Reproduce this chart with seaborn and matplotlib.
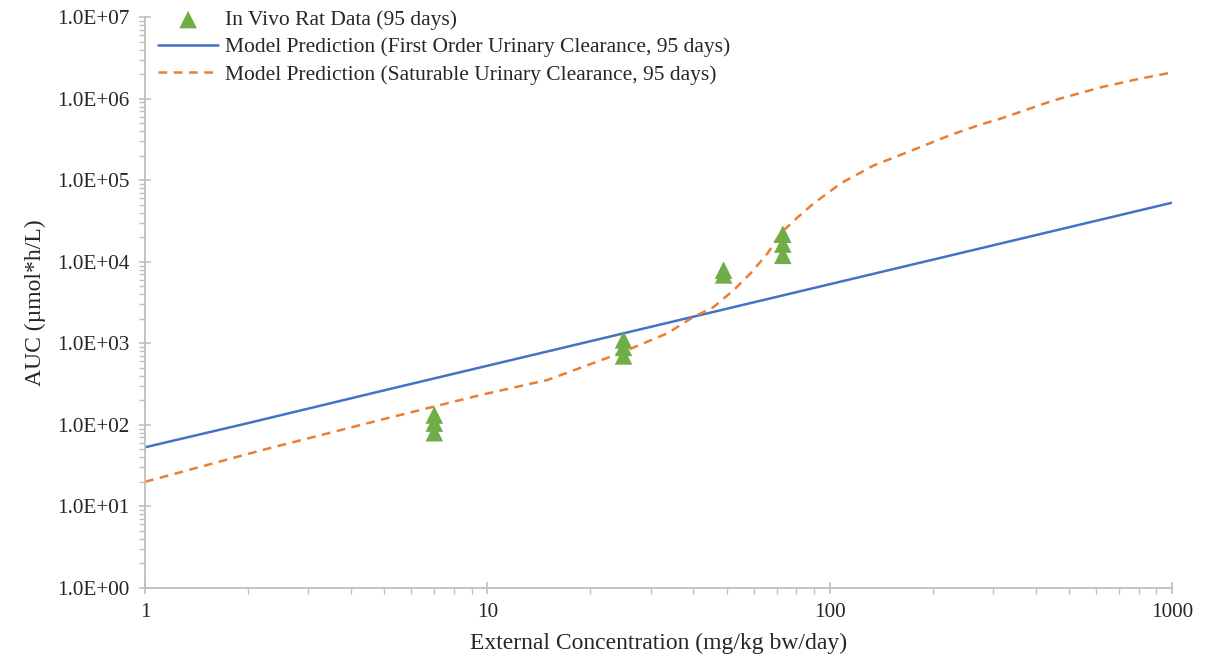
import numpy as np
import pandas as pd
import matplotlib
matplotlib.use('Agg')
import matplotlib.pyplot as plt
import matplotlib.ticker as mticker
import seaborn as sns

# In vivo rat data (95 days)
rat_x = [7, 7, 7, 25, 25, 25, 49, 49, 73, 73, 73]
rat_y = [132, 105, 80, 1100, 890, 700, 7900, 6900, 21800, 16500, 12000]

# Model prediction, first order urinary clearance
first_x = [1, 2, 5, 10, 20, 50, 100, 200, 500, 1000]
first_y = [53, 105, 265, 530, 1060, 2650, 5300, 10600, 26500, 53000]

# Model prediction, saturable urinary clearance
sat_x = [1, 2.2, 5, 9.55, 15, 24.5, 33.6, 40, 45.8, 52.4, 58.8, 65.9, 71.9,
         80.6, 89.8, 108, 134.5, 173, 226, 275, 316, 450, 620, 800, 1000]
sat_y = [20, 49, 118, 232, 355, 760, 1330, 2100, 2780, 4480, 7250, 12700,
         22400, 35000, 52000, 92000, 1.52e5, 2.3e5, 3.6e5, 4.8e5, 5.7e5,
         9.5e5, 1.38e6, 1.75e6, 2.1e6]

# axis ticks
x_ticks = [1, 10, 100, 1000]
y_ticks = [1, 1e1, 1e2, 1e3, 1e4, 1e5, 1e6, 1e7]

labels = ['In Vivo Rat Data (95 days)',
          'Model Prediction (First Order Urinary Clearance, 95 days)',
          'Model Prediction (Saturable Urinary Clearance, 95 days)']

sns.set_style('ticks')
plt.rcParams['font.family'] = ['Liberation Serif', 'DejaVu Serif']

text_col = '#262626'
axis_col = '#bfbfbf'

fig = plt.figure(figsize=(12.22, 6.62), dpi=100)
ax = fig.add_axes([0.1187, 0.112, 0.8403, 0.862])

sns.lineplot(x=first_x, y=first_y, ax=ax, color='#4472C4', linewidth=1.8,
             label=labels[1])
sns.lineplot(x=sat_x, y=sat_y, ax=ax, color='#ED7D31', linewidth=1.8,
             linestyle=(0, (3.5, 2.6)), label=labels[2])
sns.scatterplot(x=rat_x, y=rat_y, ax=ax, color='#70AD47', marker='^', s=160,
                edgecolor='none', label=labels[0], zorder=5)

ax.set_xscale('log')
ax.set_yscale('log')
ax.set_xlim(1, 1000)
ax.set_ylim(1, 1e7)

# fixed major ticks so nothing sits outside the axis range
ax.yaxis.set_major_locator(mticker.FixedLocator(y_ticks))
ax.xaxis.set_major_locator(mticker.FixedLocator(x_ticks))
ax.yaxis.set_minor_locator(mticker.FixedLocator(
    [m * d for d in y_ticks[:-1] for m in range(2, 10)]))
ax.xaxis.set_minor_locator(mticker.FixedLocator(
    [m * d for d in x_ticks[:-1] for m in range(2, 10)]))
ax.yaxis.set_major_formatter(mticker.FuncFormatter(lambda v, p: f'{v:.1E}'))
ax.yaxis.set_minor_formatter(mticker.NullFormatter())
ax.xaxis.set_major_formatter(mticker.FuncFormatter(lambda v, p: f'{v:g}'))
ax.xaxis.set_minor_formatter(mticker.NullFormatter())

for s in ['top', 'right']:
    ax.spines[s].set_visible(False)
for s in ['left', 'bottom']:
    ax.spines[s].set_color(axis_col)
    ax.spines[s].set_linewidth(1.3)

ax.tick_params(axis='both', which='major', direction='inout', length=8, width=1.2,
               color=axis_col, labelsize=15.3, labelcolor=text_col, pad=7)
ax.tick_params(axis='both', which='minor', direction='out', length=4, width=1,
               color=axis_col)

ax.set_xlabel('External Concentration (mg/kg bw/day)', fontsize=17, color=text_col, labelpad=8)
ax.set_ylabel('AUC (µmol*h/L)', fontsize=17, color=text_col, labelpad=8)

handles, labs = ax.get_legend_handles_labels()
order = [labs.index(l) for l in labels]
ax.legend([handles[i] for i in order], [labs[i] for i in order],
          loc='upper left', bbox_to_anchor=(0.0, 1.035), frameon=False,
          fontsize=15.5, labelcolor=text_col, handlelength=2.8, handletextpad=0.3,
          labelspacing=0.33, borderaxespad=0.2)

fig.savefig('out.png', dpi=100)
